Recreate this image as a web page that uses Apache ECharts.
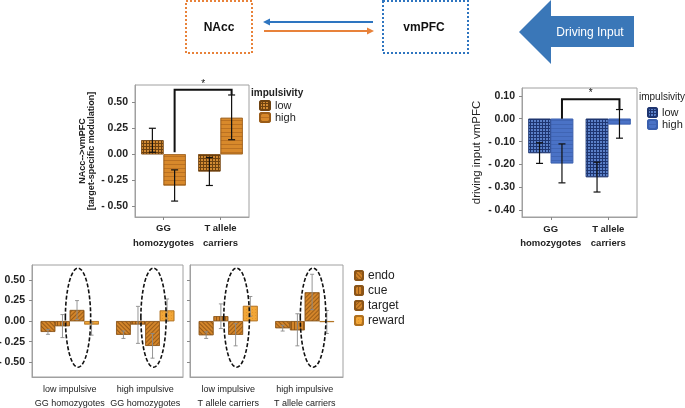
<!DOCTYPE html>
<html><head><meta charset="utf-8">
<script src="https://cdn.jsdelivr.net/npm/echarts@6/dist/echarts.min.js"></script>
<style>html,body{margin:0;padding:0;background:#fff}#c{width:685px;height:408px}</style>
</head><body><div id="c"></div>
<script>
// ---------- DATA ----------
const topCategories = ['GG\nhomozygotes', 'T allele\ncarriers'];
const naccLow = [0.135, -0.165];
const naccLowErr = [[0.02, 0.25], [-0.30, -0.03]];
const naccHigh = [-0.30, 0.35];
const naccHighErr = [[-0.45, -0.15], [0.14, 0.57]];
const naccSig = [0, 0.02, 1, 0.57, 0.62];        // from cat, from y, to cat, to y, top y
const naccTicks = [-0.5, -0.25, 0, 0.25, 0.5];

const driveLow = [-0.15, -0.255];
const driveLowErr = [[-0.195, -0.105], [-0.32, -0.19]];
const driveHigh = [-0.195, -0.025];
const driveHighErr = [[-0.28, -0.11], [-0.085, 0.04]];
const driveSig = [0, 0.0, 1, 0.04, 0.085];
const driveTicks = [-0.4, -0.3, -0.2, -0.1, 0, 0.1];

const ggCategories = ['low impulsive\nGG homozygotes', 'high impulsive\nGG homozygotes'];
const tCategories = ['low impulsive\nT allele carriers', 'high impulsive\nT allele carriers'];
const phaseNames = ['endo', 'cue', 'target', 'reward'];
const ggValues = {
  endo: [-0.13, -0.165], cue: [-0.06, -0.04], target: [0.135, -0.30], reward: [-0.04, 0.13]
};
const ggErr = {
  endo: [[-0.16, -0.10], [-0.21, -0.12]], cue: [[-0.20, 0.08], [-0.27, 0.18]],
  target: [[0.02, 0.25], [-0.45, -0.15]], reward: [[-0.17, -0.02], [0.0, 0.27]]
};
const tValues = {
  endo: [-0.17, -0.085], cue: [0.06, -0.11], target: [-0.165, 0.35], reward: [0.185, -0.01]
};
const tErr = {
  endo: [[-0.21, -0.13], [-0.12, -0.05]], cue: [[-0.09, 0.21], [-0.30, 0.09]],
  target: [[-0.30, -0.03], [0.14, 0.57]], reward: [[0.06, 0.30], [-0.15, 0.13]]
};
const ellipseRange = [-0.56, 0.645];
const bottomTicks = [-0.5, -0.25, 0, 0.25, 0.5];

// ---------- STYLE ----------
const FONT = 'Liberation Sans, Arial, sans-serif';
const TOP_GAP = 0.22, BOT_GAP = 0.23;
const fmt = v => (v < 0 ? '- ' + Math.abs(v).toFixed(2) : v.toFixed(2));

const styles = {
  oLow: {color: '#6e4210', borderColor: '#6e4210', borderWidth: 0.6,
    decal: {symbol: 'rect', symbolSize: 1, color: '#d18a33', dashArrayX: [2, 1], dashArrayY: [2, 1]}},
  oHigh: {color: '#d8892b', borderColor: '#9a5c18', borderWidth: 0.6,
    decal: {symbol: 'rect', symbolSize: 1, color: 'rgba(150,85,20,0.45)', dashArrayX: [1, 0], dashArrayY: [1, 3]}},
  bLow: {color: '#1e3570', borderColor: '#1e3570', borderWidth: 0.6,
    decal: {symbol: 'rect', symbolSize: 1, color: '#5b80c8', dashArrayX: [2, 1], dashArrayY: [2, 1]}},
  bHigh: {color: '#4a72c6', borderColor: '#3a5fae', borderWidth: 0.6,
    decal: {symbol: 'rect', symbolSize: 1, color: 'rgba(40,70,140,0.3)', dashArrayX: [1, 0], dashArrayY: [1, 3]}},
  endo: {color: '#d3852a', borderColor: '#8a5418', borderWidth: 0.6,
    decal: {symbol: 'rect', symbolSize: 1, color: 'rgba(110,60,10,0.6)', dashArrayX: [1, 0], dashArrayY: [1, 2], rotation: Math.PI / 4}},
  cue: {color: '#d3852a', borderColor: '#8a5418', borderWidth: 0.6,
    decal: {symbol: 'rect', symbolSize: 1, color: 'rgba(110,60,10,0.6)', dashArrayX: [1, 2], dashArrayY: [1, 0]}},
  target: {color: '#d3852a', borderColor: '#8a5418', borderWidth: 0.6,
    decal: {symbol: 'rect', symbolSize: 1, color: 'rgba(110,60,10,0.55)', dashArrayX: [1, 0], dashArrayY: [1, 1.5], rotation: -Math.PI / 4}},
  reward: {color: '#f2a637', borderColor: '#b0701e', borderWidth: 0.6,
    decal: {symbol: 'rect', symbolSize: 1, color: 'rgba(200,120,20,0.35)', dashArrayX: [1, 2], dashArrayY: [1, 2]}}
};

// ---------- RENDER HELPERS ----------
function barX(api, cat, n, idx, gap) {
  const p = api.coord([cat, 0]);
  const band = api.size([1, 0])[0];
  const gw = band * (1 - gap), bw = gw / n;
  return {x: p[0] - gw / 2 + bw * (idx + 0.5), bw: bw};
}
function errItem(n, idx, gap, cap, color, lw) {
  return function (params, api) {
    const c = api.value(0);
    const bx = barX(api, c, n, idx, gap).x;
    const y0 = api.coord([c, api.value(1)])[1];
    const y1 = api.coord([c, api.value(2)])[1];
    const st = {stroke: color, lineWidth: lw};
    return {type: 'group', children: [
      {type: 'line', shape: {x1: bx, y1: y0, x2: bx, y2: y1}, style: st},
      {type: 'line', shape: {x1: bx - cap, y1: y0, x2: bx + cap, y2: y0}, style: st},
      {type: 'line', shape: {x1: bx - cap, y1: y1, x2: bx + cap, y2: y1}, style: st}
    ]};
  };
}
function bracketItem(n, idx, gap) {
  return function (params, api) {
    const xa = barX(api, api.value(0), n, idx, gap).x;
    const xb = barX(api, api.value(2), n, idx, gap).x;
    const ya = api.coord([api.value(0), api.value(1)])[1];
    const yb = api.coord([api.value(2), api.value(3)])[1];
    const yt = api.coord([api.value(0), api.value(4)])[1];
    return {type: 'group', children: [
      {type: 'polyline', shape: {points: [[xa, ya], [xa, yt], [xb, yt], [xb, yb]]},
        style: {stroke: '#111', lineWidth: 2, fill: null}},
      {type: 'text', style: {text: '*', x: (xa + xb) / 2, y: yt - 1, align: 'center', verticalAlign: 'bottom',
        fontSize: 10, fill: '#111', fontFamily: FONT}}
    ]};
  };
}
function ellipseItem(n, idx, gap) {
  return function (params, api) {
    const c = api.value(0);
    const b = barX(api, c, n, idx, gap);
    const lo = api.coord([c, api.value(1)])[1];
    const hi = api.coord([c, api.value(2)])[1];
    return {type: 'ellipse', shape: {cx: b.x + 1, cy: (lo + hi) / 2, rx: b.bw * 0.87, ry: Math.abs(lo - hi) / 2},
      style: {fill: null, stroke: '#111', lineWidth: 1.6, lineDash: [4, 2]}};
  };
}
const errData = arr => arr.map((e, i) => [i, e[0], e[1]]);

// ---------- AXES ----------
const axisLineStyle = {lineStyle: {color: '#a0a0a0', width: 1}};
function yAxisDef(gridIndex, min, max, ticks, showLabels, margin, extra) {
  return Object.assign({
    type: 'value', gridIndex: gridIndex, min: min, max: max,
    axisLine: Object.assign({show: true}, axisLineStyle),
    axisTick: {show: true, length: 3, customValues: ticks, lineStyle: {color: '#888'}},
    axisLabel: {show: showLabels, customValues: ticks, formatter: fmt, color: '#222',
      fontSize: 10.5, fontWeight: 'bold', fontFamily: FONT, margin: margin},
    splitLine: {show: false}
  }, extra || {});
}
function xAxisDef(gridIndex, cats, bold, fs, lh, margin, showTick) {
  return {
    type: 'category', gridIndex: gridIndex, data: cats,
    axisLine: Object.assign({show: true, onZero: false}, axisLineStyle),
    axisTick: {show: showTick, alignWithLabel: true, length: 3, lineStyle: {color: '#888'}},
    axisLabel: {color: '#222', fontSize: fs, fontWeight: bold ? 'bold' : 'normal', fontFamily: FONT,
      lineHeight: lh, margin: margin, interval: 0}
  };
}

const series = [];
// top-left
series.push({name: 'low', type: 'bar', xAxisIndex: 0, yAxisIndex: 0, data: naccLow, itemStyle: styles.oLow,
  barGap: 0, barCategoryGap: TOP_GAP * 100 + '%'});
series.push({name: 'high', type: 'bar', xAxisIndex: 0, yAxisIndex: 0, data: naccHigh, itemStyle: styles.oHigh,
  barGap: 0, barCategoryGap: TOP_GAP * 100 + '%'});
series.push({type: 'custom', xAxisIndex: 0, yAxisIndex: 0, z: 5, data: errData(naccLowErr),
  renderItem: errItem(2, 0, TOP_GAP, 3.5, '#111', 1.2), encode: {x: 0, y: [1, 2]}});
series.push({type: 'custom', xAxisIndex: 0, yAxisIndex: 0, z: 5, data: errData(naccHighErr),
  renderItem: errItem(2, 1, TOP_GAP, 3.5, '#111', 1.2), encode: {x: 0, y: [1, 2]}});
series.push({type: 'custom', xAxisIndex: 0, yAxisIndex: 0, z: 6, data: [naccSig],
  renderItem: bracketItem(2, 1, TOP_GAP), encode: {x: 0, y: 1}});
// top-right
series.push({name: 'low_b', type: 'bar', xAxisIndex: 1, yAxisIndex: 1, data: driveLow, itemStyle: styles.bLow,
  barGap: 0, barCategoryGap: TOP_GAP * 100 + '%'});
series.push({name: 'high_b', type: 'bar', xAxisIndex: 1, yAxisIndex: 1, data: driveHigh, itemStyle: styles.bHigh,
  barGap: 0, barCategoryGap: TOP_GAP * 100 + '%'});
series.push({type: 'custom', xAxisIndex: 1, yAxisIndex: 1, z: 5, data: errData(driveLowErr),
  renderItem: errItem(2, 0, TOP_GAP, 3.5, '#111', 1.2), encode: {x: 0, y: [1, 2]}});
series.push({type: 'custom', xAxisIndex: 1, yAxisIndex: 1, z: 5, data: errData(driveHighErr),
  renderItem: errItem(2, 1, TOP_GAP, 3.5, '#111', 1.2), encode: {x: 0, y: [1, 2]}});
series.push({type: 'custom', xAxisIndex: 1, yAxisIndex: 1, z: 6, data: [driveSig],
  renderItem: bracketItem(2, 1, TOP_GAP), encode: {x: 0, y: 1}});
// bottom panels
[[2, ggValues, ggErr], [3, tValues, tErr]].forEach(([ax, vals, errs]) => {
  phaseNames.forEach((ph) => {
    series.push({name: ph, type: 'bar', xAxisIndex: ax, yAxisIndex: ax, data: vals[ph], itemStyle: styles[ph],
      barGap: 0, barCategoryGap: BOT_GAP * 100 + '%'});
  });
  phaseNames.forEach((ph, i) => {
    series.push({type: 'custom', xAxisIndex: ax, yAxisIndex: ax, z: 5, data: errData(errs[ph]),
      renderItem: errItem(4, i, BOT_GAP, 2, '#8a8a8a', 0.9), encode: {x: 0, y: [1, 2]}});
  });
  series.push({type: 'custom', xAxisIndex: ax, yAxisIndex: ax, z: 6,
    data: [[0, ellipseRange[0], ellipseRange[1]], [1, ellipseRange[0], ellipseRange[1]]],
    renderItem: ellipseItem(4, 2, BOT_GAP), encode: {x: 0, y: [1, 2]}});
});

const gridStyle = {show: true, borderColor: '#a0a0a0', borderWidth: 1, containLabel: false, outerBoundsMode: 'none'};
const option = {
  animation: false,
  textStyle: {fontFamily: FONT},
  grid: [
    Object.assign({left: 135, top: 85, width: 114, height: 132}, gridStyle),
    Object.assign({left: 522, top: 88, width: 115, height: 129}, gridStyle),
    Object.assign({left: 32, top: 265, width: 151, height: 112}, gridStyle),
    Object.assign({left: 190, top: 265, width: 153, height: 112}, gridStyle)
  ],
  xAxis: [
    xAxisDef(0, topCategories, true, 9.5, 15, 4, true),
    xAxisDef(1, topCategories, true, 9.5, 14, 5.5, true),
    xAxisDef(2, ggCategories, false, 9, 14, 6, false),
    xAxisDef(3, tCategories, false, 9, 14, 6, false)
  ],
  yAxis: [
    yAxisDef(0, -0.603, 0.666, naccTicks, true, 7, {
      name: 'NAcc-->vmPFC\n[target-specific modulation]', nameLocation: 'middle', nameGap: 39,
      nameTextStyle: {fontSize: 9, fontWeight: 'bold', color: '#222', lineHeight: 9, fontFamily: FONT}}),
    yAxisDef(1, -0.429, 0.134, driveTicks, true, 7, {
      name: 'driving input vmPFC', nameLocation: 'middle', nameGap: 39,
      nameTextStyle: {fontSize: 11.5, color: '#222', fontFamily: FONT}}),
    yAxisDef(2, -0.679, 0.683, bottomTicks, true, 7),
    yAxisDef(3, -0.679, 0.683, bottomTicks, false, 7)
  ],
  title: [
    {text: 'impulsivity', left: 251, top: 88, padding: 0,
      textStyle: {fontSize: 10, fontWeight: 'bold', color: '#222', fontFamily: FONT}},
    {text: 'impulsivity', left: 639, top: 92, padding: 0,
      textStyle: {fontSize: 10, fontWeight: 'normal', color: '#222', fontFamily: FONT}}
  ],
  legend: [
    {data: ['low', 'high'], orient: 'vertical', left: 259, top: 100, padding: 0, itemGap: 1,
      itemWidth: 10, itemHeight: 9, selectedMode: false,
      textStyle: {fontSize: 11, color: '#222', fontFamily: FONT, lineHeight: 10}},
    {data: ['low_b', 'high_b'], orient: 'vertical', left: 647, top: 107, padding: 0, itemGap: 1,
      itemWidth: 9, itemHeight: 9, selectedMode: false, formatter: n => n.replace('_b', ''),
      textStyle: {fontSize: 11, color: '#222', fontFamily: FONT, lineHeight: 10}},
    {data: phaseNames, orient: 'vertical', left: 354, top: 268, padding: 0, itemGap: 0,
      itemWidth: 8, itemHeight: 9, selectedMode: false,
      textStyle: {fontSize: 12, color: '#222', fontFamily: FONT, lineHeight: 15}}
  ],
  graphic: {elements: [
    {type: 'rect', shape: {x: 186, y: 1, width: 66, height: 52},
      style: {fill: null, stroke: '#e8823a', lineWidth: 2, lineDash: [2, 2]}},
    {type: 'text', x: 219, y: 28, style: {text: 'NAcc', fontSize: 12, fontWeight: 'bold', fill: '#111',
      align: 'center', verticalAlign: 'middle', fontFamily: FONT}},
    {type: 'rect', shape: {x: 383, y: 1, width: 85, height: 52},
      style: {fill: null, stroke: '#2e75c0', lineWidth: 2, lineDash: [2, 2]}},
    {type: 'text', x: 424, y: 28, style: {text: 'vmPFC', fontSize: 12, fontWeight: 'bold', fill: '#111',
      align: 'center', verticalAlign: 'middle', fontFamily: FONT}},
    {type: 'line', shape: {x1: 373, y1: 22, x2: 268, y2: 22}, style: {stroke: '#2e75c0', lineWidth: 2}},
    {type: 'polygon', shape: {points: [[263, 22], [270, 18.5], [270, 25.5]]}, style: {fill: '#2e75c0'}},
    {type: 'line', shape: {x1: 264, y1: 31, x2: 368, y2: 31}, style: {stroke: '#e8823a', lineWidth: 2}},
    {type: 'polygon', shape: {points: [[374, 31], [367, 27.5], [367, 34.5]]}, style: {fill: '#e8823a'}},
    {type: 'polygon', shape: {points: [[519, 32], [551, 0], [551, 16], [634, 16], [634, 47], [551, 47], [551, 64]]},
      style: {fill: '#3a77b8'}},
    {type: 'text', x: 590, y: 33, style: {text: 'Driving Input', fontSize: 12, fill: '#fff',
      align: 'center', verticalAlign: 'middle', fontFamily: FONT}}
  ]},
  series: series
};
const chart = echarts.init(document.getElementById('c'), null, {renderer: 'canvas'});
chart.setOption(option);
</script>
</body></html>
